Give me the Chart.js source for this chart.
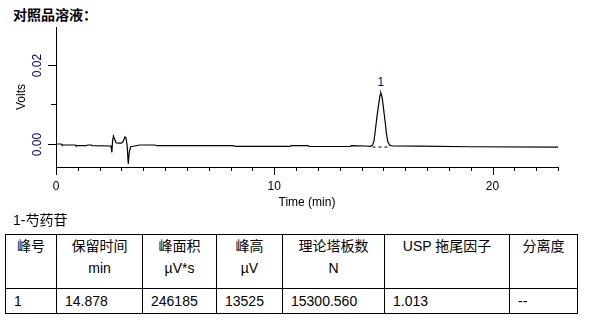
<!DOCTYPE html>
<html>
<head>
<meta charset="utf-8">
<script src="https://cdn.jsdelivr.net/npm/chart.js@4"></script>
<style>
  body { margin: 0; background: #fff; width: 591px; height: 327px; position: relative; overflow: hidden;
         font-family: "Liberation Sans", Arial, "Noto Sans CJK SC", sans-serif; color: #000; }
  #title { position: absolute; left: 13px; top: 4px; font: bold 14px "Noto Sans CJK SC", sans-serif; line-height: 20px; }
  #wrap { position: absolute; left: 0; top: 0; width: 591px; height: 215px; }
  #compound { position: absolute; left: 13px; top: 210px; font-size: 14px; line-height: 20px; }
  #peaks { position: absolute; left: 5px; top: 234px; border-collapse: collapse; table-layout: fixed; font-size: 14px; }
  #peaks td { border: 1px solid #000; padding: 0; }
  #peaks tr.head td { height: 53px; vertical-align: top; text-align: center; line-height: 22px; }
  #peaks tr.row td { height: 24px; padding-left: 8px; line-height: 24px; }
</style>
</head>
<body>
<div id="title">对照品溶液：</div>
<div id="wrap"><canvas id="chrom" width="591" height="215"></canvas></div>
<div id="compound">1-芍药苷</div>
<table id="peaks"></table>
<script>
// chromatogram trace (min, V)
const times = [0, 0.24, 0.27, 0.89, 0.91, 1.39, 1.44, 1.62, 1.65, 2.52,
  2.56, 2.59, 2.63, 2.68, 2.75, 2.86, 3.00, 3.09, 3.16, 3.21, 3.26, 3.31, 3.36, 3.42, 3.60,
  3.83, 4.52, 4.61, 8.10, 8.24, 10.73, 10.77, 11.55, 11.60, 13.49, 13.53, 14.17,
  14.40, 14.50, 14.57, 14.63, 14.71, 14.79, 14.85, 14.88, 14.94, 15.01, 15.08, 15.14, 15.20, 15.29, 15.42,
  16.70, 19.00, 23.00];
const volts = [0, 0, -0.00025, -0.00025, -0.00043, -0.00043, -0.00025, -0.00025, -0.00043, -0.0005,
  -0.0021, 0.0006, 0.0020, 0.0013, 0.0003, 0.0002, 0.0002, 0.0008, 0.0018, 0.0015, -0.0004, -0.0050, -0.0019, -0.0007, -0.0005,
  -0.00025, -0.00025, -0.00043, -0.00043, -0.0006, -0.0006, -0.00043, -0.00043, -0.00063, -0.00063, -0.00043, -0.0005,
  -0.0006, -0.0003, 0.0008, 0.0034, 0.0071, 0.0102, 0.0124, 0.0129, 0.0118, 0.0088, 0.0056, 0.0026, 0.0006, -0.0003, -0.0005,
  -0.00055, -0.0007, -0.0008];

// integration baseline under peak 1
const baseTimes = [14.50, 15.33];
const baseVolts = [-0.00076, -0.00076];

const peakLabel = '1';
const peakTime = 14.878;
const peakVolts = 0.0129;

const yLabelled = [0, 0.02];

// result table
const tableHeads = ['峰号', '保留时间', '峰面积', '峰高', '理论塔板数', 'USP 拖尾因子', '分离度'];
const tableUnits = ['', 'min', 'µV*s', 'µV', 'N', '', ''];
const tableRow = ['1', '14.878', '246185', '13525', '15300.560', '1.013', '--'];
const colWidths = [51, 86, 74, 66, 102, 125, 68];

let html = '<colgroup>' + colWidths.map(w => '<col style="width:' + w + 'px">').join('') + '</colgroup>';
html += '<tr class="head">' + tableHeads.map((h, i) => '<td>' + h + (tableUnits[i] ? '<br>' + tableUnits[i] : '') + '</td>').join('') + '</tr>';
html += '<tr class="row">' + tableRow.map(v => '<td>' + v + '</td>').join('') + '</tr>';
document.getElementById('peaks').innerHTML = html;

const axisDecor = {
  id: 'axisDecor',
  afterDraw(chart) {
    const ctx = chart.ctx;
    const x = chart.scales.x, y = chart.scales.y, area = chart.chartArea;
    ctx.save();
    ctx.strokeStyle = '#000';
    ctx.lineWidth = 1;
    x.ticks.forEach(tk => {
      const px = Math.round(x.getPixelForValue(tk.value)) + 0.5;
      const len = Math.round(tk.value) % 10 === 0 ? 8 : 4;
      ctx.beginPath(); ctx.moveTo(px, area.bottom); ctx.lineTo(px, area.bottom + len); ctx.stroke();
    });
    ctx.font = '12px "Liberation Sans", Arial, sans-serif';
    ctx.fillStyle = '#00008b';
    ctx.textAlign = 'center';
    ctx.textBaseline = 'middle';
    y.ticks.forEach(tk => {
      const py = Math.round(y.getPixelForValue(tk.value)) + 0.5;
      const major = yLabelled.some(v => Math.abs(v - tk.value) < 1e-9);
      ctx.beginPath(); ctx.moveTo(area.left - (major ? 8 : 5), py); ctx.lineTo(area.left, py); ctx.stroke();
      if (major) {
        ctx.save();
        ctx.translate(38, py);
        ctx.rotate(-Math.PI / 2);
        ctx.fillText(tk.value.toFixed(2), 0, 0);
        ctx.restore();
      }
    });
    ctx.fillText(peakLabel, x.getPixelForValue(peakTime), y.getPixelForValue(peakVolts) - 10);
    ctx.restore();
  }
};

new Chart(document.getElementById('chrom'), {
  type: 'line',
  data: {
    datasets: [
      {
        data: times.map((t, i) => ({ x: t, y: volts[i] })),
        borderColor: '#000',
        borderWidth: 1.2,
        pointRadius: 0,
        tension: 0,
        fill: false
      },
      {
        data: baseTimes.map((t, i) => ({ x: t, y: baseVolts[i] })),
        borderColor: '#000',
        borderWidth: 1,
        borderDash: [3, 3],
        pointRadius: 0,
        fill: false
      }
    ]
  },
  options: {
    responsive: false,
    animation: false,
    devicePixelRatio: 1,
    layout: { padding: { top: 27, right: 33, bottom: 0, left: 0 } },
    plugins: { legend: { display: false }, tooltip: { enabled: false } },
    scales: {
      x: {
        type: 'linear',
        min: 0,
        max: 23,
        grid: { display: false },
        border: { display: true, color: '#000', width: 1 },
        ticks: {
          stepSize: 1,
          autoSkip: false,
          maxRotation: 0,
          padding: 4,
          color: '#000',
          font: { family: '"Liberation Sans", Arial, sans-serif', size: 12 },
          callback: v => (Math.round(v) % 10 === 0 ? String(Math.round(v)) : '')
        },
        title: {
          display: true,
          text: 'Time (min)',
          color: '#000',
          font: { family: '"Liberation Sans", Arial, sans-serif', size: 12 },
          padding: { top: 0, bottom: 5 }
        },
        afterFit: s => { s.height = 48; }
      },
      y: {
        min: -0.0058,
        max: 0.0295,
        grid: { display: false },
        border: { display: true, color: '#000', width: 1 },
        ticks: {
          stepSize: 0.01,
          includeBounds: false,
          color: 'rgba(0,0,0,0)',
          font: { size: 12 }
        },
        title: {
          display: true,
          text: 'Volts',
          color: '#000',
          font: { family: '"Liberation Sans", Arial, sans-serif', size: 12 },
          padding: { top: 14, bottom: 0 }
        },
        afterFit: s => { s.width = 56; }
      }
    }
  },
  plugins: [axisDecor]
});
</script>
</body>
</html>
